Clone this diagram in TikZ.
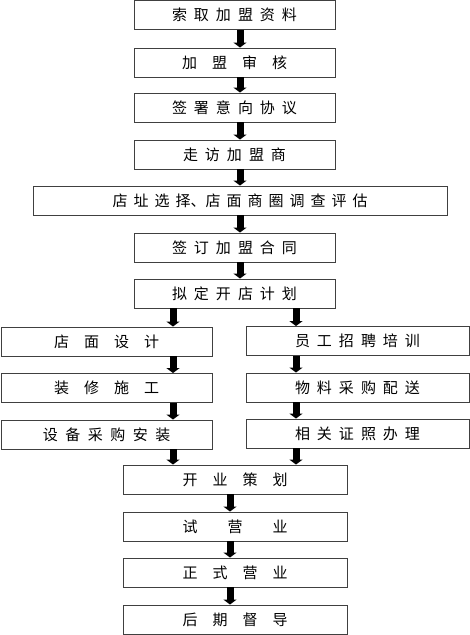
\documentclass[tikz,border=0pt]{standalone}
\usepackage{fontspec}
\newfontfamily\cjk{Noto Sans CJK SC}
\usepackage{tikz}
\usetikzlibrary{arrows.meta}

\begin{document}
\begin{tikzpicture}[x=1pt, y=-1pt,
    stepbox/.style={draw=black!75, line width=0.9pt, fill=white, inner sep=0pt,
      minimum height=29pt},
    spread/.style={font={\cjk\fontsize{15pt}{17pt}\selectfont\spaceskip=#1\relax}},
    flow/.style={line width=7pt, -{Triangle[width=13pt, length=5pt]}}]
    \useasboundingbox (0,0) rectangle (470,635);

    % columns of the arrows
    \coordinate (cx) at (240, 0);
    \coordinate (lx) at (173, 0);
    \coordinate (rx) at (296, 0);
    \coordinate (bx) at (230, 0);

    % main chain
    \node[stepbox, spread=7pt, minimum width=201pt] (n1) at (234.5, 15) {索 取 加 盟 资 料};
    \node[stepbox, spread=15pt, minimum width=201pt] (n2) at (234.5, 62.5) {加 盟 审 核};
    \node[stepbox, spread=7pt, minimum width=201pt] (n3) at (234.5, 107.5) {签 署 意 向 协 议};
    \node[stepbox, spread=7pt, minimum width=201pt] (n4) at (234.5, 154.5) {走 访 加 盟 商};
    \node[stepbox, spread=6pt, minimum width=414pt] (n5) at (240, 200.5) {店 址 选 择、店 面 商 圈 调 查 评 估};
    \node[stepbox, spread=7pt, minimum width=201pt] (n6) at (234.5, 247.5) {签 订 加 盟 合 同};
    \node[stepbox, spread=7pt, minimum width=201pt] (n7) at (234.5, 293.5) {拟 定 开 店 计 划};

    % two branches
    \node[stepbox, spread=15pt, minimum width=211pt] (l1) at (106.5, 341.5) {店 面 设 计};
    \node[stepbox, spread=15pt, minimum width=211pt] (l2) at (106.5, 388) {装 修 施 工};
    \node[stepbox, spread=7.5pt, minimum width=211pt] (l3) at (106.5, 434.5) {设 备 采 购 安 装};
    \node[stepbox, spread=7pt, minimum width=223pt] (r1) at (357.5, 341) {员 工 招 聘 培 训};
    \node[stepbox, spread=7pt, minimum width=223pt] (r2) at (357.5, 387.5) {物 料 采 购 配 送};
    \node[stepbox, spread=7pt, minimum width=223pt] (r3) at (357.5, 433.5) {相 关 证 照 办 理};

    % opening
    \node[stepbox, spread=15pt, minimum width=224pt] (m1) at (235, 479.5) {开 业 策 划};
    \node[stepbox, spread=30pt, minimum width=224pt] (m2) at (235, 526.5) {试 营 业};
    \node[stepbox, spread=15pt, minimum width=224pt] (m3) at (235, 572.5) {正 式 营 业};
    \node[stepbox, spread=15pt, minimum width=224pt] (m4) at (235, 619.5) {后 期 督 导};

    \draw[flow] (n1.south -| cx) -- (n2.north -| cx);
    \draw[flow] (n2.south -| cx) -- (n3.north -| cx);
    \draw[flow] (n3.south -| cx) -- (n4.north -| cx);
    \draw[flow] (n4.south -| cx) -- (n5.north -| cx);
    \draw[flow] (n5.south -| cx) -- (n6.north -| cx);
    \draw[flow] (n6.south -| cx) -- (n7.north -| cx);

    \draw[flow] (n7.south -| lx) -- (l1.north -| lx);
    \draw[flow] (l1.south -| lx) -- (l2.north -| lx);
    \draw[flow] (l2.south -| lx) -- (l3.north -| lx);
    \draw[flow] (l3.south -| lx) -- (m1.north -| lx);
    \draw[flow] (n7.south -| rx) -- (r1.north -| rx);
    \draw[flow] (r1.south -| rx) -- (r2.north -| rx);
    \draw[flow] (r2.south -| rx) -- (r3.north -| rx);
    \draw[flow] (r3.south -| rx) -- (m1.north -| rx);

    \draw[flow] (m1.south -| bx) -- (m2.north -| bx);
    \draw[flow] (m2.south -| bx) -- (m3.north -| bx);
    \draw[flow] (m3.south -| bx) -- (m4.north -| bx);
\end{tikzpicture}
\end{document}
